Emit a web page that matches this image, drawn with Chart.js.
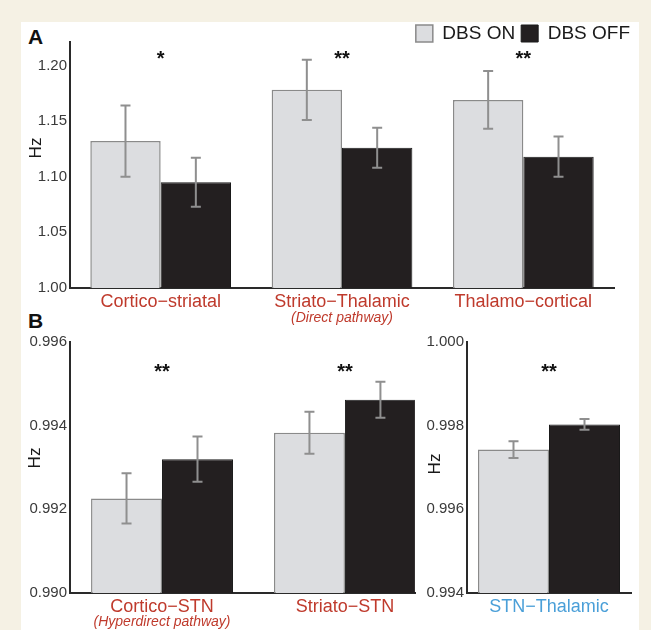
<!DOCTYPE html>
<html>
<head>
<meta charset="utf-8">
<script src="https://cdn.jsdelivr.net/npm/chart.js@4.4.0/dist/chart.umd.min.js"></script>
<style>
  body { margin: 0; width: 651px; height: 630px; background: #f5f1e4; position: relative; overflow: hidden;
         font-family: 'Liberation Sans', Arial, sans-serif; }
  #panel { position: absolute; left: 21px; top: 22px; width: 618px; height: 608px; background: #fff; }
  canvas { position: absolute; }
  .tag { position: absolute; font-weight: bold; font-size: 21px; color: #111; line-height: 24px; }
</style>
</head>
<body>
<div id="panel"></div>
<div class="tag" style="left:28px;top:25px">A</div>
<div class="tag" style="left:28px;top:309px">B</div>
<canvas id="chartA" width="600" height="300" style="left:20px;top:30px"></canvas>
<canvas id="chartB1" width="400" height="300" style="left:20px;top:330px"></canvas>
<canvas id="chartB2" width="220" height="300" style="left:417px;top:330px"></canvas>
<canvas id="legend" width="240" height="90" style="left:396px;top:18px"></canvas>
<script>
// panel A
const groupsA = ['Cortico−striatal', 'Striato−Thalamic', 'Thalamo−cortical'];
const notesA = ['', '(Direct pathway)', ''];
const starsA = ['*', '**', '**'];
const onA = [1.132, 1.178, 1.169];
const onErrA = [0.032, 0.027, 0.026];
const offA = [1.095, 1.126, 1.118];
const offErrA = [0.022, 0.018, 0.018];
const ticksA = [1.00, 1.05, 1.10, 1.15, 1.20];

// panel B, left
const groupsB1 = ['Cortico−STN', 'Striato−STN'];
const notesB1 = ['(Hyperdirect pathway)', ''];
const starsB1 = ['**', '**'];
const onB1 = [0.99226, 0.99383];
const onErrB1 = [0.0006, 0.0005];
const offB1 = [0.9932, 0.99462];
const offErrB1 = [0.00054, 0.00043];
const ticksB1 = [0.990, 0.992, 0.994, 0.996];

// panel B, right
const groupsB2 = ['STN−Thalamic'];
const notesB2 = [''];
const starsB2 = ['**'];
const onB2 = [0.99743];
const onErrB2 = [0.0002];
const offB2 = [0.99803];
const offErrB2 = [0.00013];
const ticksB2 = [0.994, 0.996, 0.998, 1.000];

const RED = '#bf3a2c';
const BLUE = '#4a9fd8';
const FONT = "'Liberation Sans', Arial, sans-serif";
Chart.defaults.font.family = FONT;

const onStyle = { backgroundColor: '#dcdde0', borderColor: '#8a8a8a', borderWidth: 1.5 };
const offStyle = { backgroundColor: '#231f20', borderColor: '#1a1a1a', borderWidth: 1 };

// error bars, stars, the small pathway notes and the Hz title
const decor = {
  id: 'decor',
  afterDatasetsDraw(chart, args, opts) {
    const { ctx, chartArea } = chart;
    const yAxis = chart.scales.y;
    ctx.save();
    ctx.strokeStyle = '#8f8f8f';
    ctx.lineWidth = 2;
    chart.data.datasets.forEach((ds, d) => {
      const meta = chart.getDatasetMeta(d);
      meta.data.forEach((bar, i) => {
        const raw = ds.data[i];
        const v = typeof raw === 'object' ? raw.y : raw;
        const e = ds.errors[i];
        const y1 = yAxis.getPixelForValue(v + e);
        const y2 = yAxis.getPixelForValue(v - e);
        ctx.beginPath();
        ctx.moveTo(bar.x, y1); ctx.lineTo(bar.x, y2);
        ctx.moveTo(bar.x - 5, y1); ctx.lineTo(bar.x + 5, y1);
        ctx.moveTo(bar.x - 5, y2); ctx.lineTo(bar.x + 5, y2);
        ctx.stroke();
      });
    });
    const m0 = chart.getDatasetMeta(0), m1 = chart.getDatasetMeta(1);
    ctx.fillStyle = '#111';
    ctx.textAlign = 'center';
    ctx.font = 'bold 20px ' + FONT;
    ctx.textBaseline = 'alphabetic';
    opts.stars.forEach((s, i) => {
      const x = (m0.data[i].x + m1.data[i].x) / 2;
      ctx.fillText(s, x, chartArea.top + opts.starDy);
    });
    ctx.fillStyle = RED;
    ctx.font = 'italic 14px ' + FONT;
    ctx.textBaseline = 'middle';
    opts.notes.forEach((n, i) => {
      if (!n) return;
      const x = (m0.data[i].x + m1.data[i].x) / 2;
      ctx.fillText(n, x, chartArea.bottom + opts.noteDy);
    });
    // axis title
    ctx.fillStyle = '#1a1a1a';
    ctx.font = '17px ' + FONT;
    ctx.translate(opts.hzX, chartArea.top + opts.hzDy);
    ctx.rotate(-Math.PI / 2);
    ctx.fillText('Hz', 0, 0);
    ctx.restore();
  }
};

function yScale(min, max, ticks, digits) {
  return {
    min: min, max: max, beginAtZero: false,
    grid: { display: false, drawTicks: false },
    border: { color: '#2a2a2a', width: 2 },
    afterBuildTicks: (axis) => { axis.ticks = ticks.map(v => ({ value: v })); },
    afterFit: (axis) => { axis.width = 50; },
    ticks: { color: '#3a3a3a', font: { size: 15 }, padding: 3, callback: (v) => v.toFixed(digits) }
  };
}

function xCat(color, height) {
  return {
    grid: { display: false, drawTicks: false },
    border: { color: '#2a2a2a', width: 2 },
    afterFit: (axis) => { axis.height = height; },
    ticks: { color: color, font: { size: 18 }, padding: 3, maxRotation: 0, autoSkip: false }
  };
}

function barOptions(padding, catPct, x, y, deco) {
  return {
    responsive: false,
    animation: false,
    layout: { padding: padding },
    datasets: { bar: { categoryPercentage: catPct, barPercentage: 1 } },
    plugins: {
      legend: { display: false },
      tooltip: { enabled: false },
      decor: deco
    },
    scales: { x: x, y: y }
  };
}

new Chart(document.getElementById('chartA'), {
  type: 'bar',
  data: {
    labels: groupsA,
    datasets: [
      { label: 'DBS ON', data: onA, errors: onErrA, ...onStyle },
      { label: 'DBS OFF', data: offA, errors: offErrA, ...offStyle }
    ]
  },
  options: barOptions({ top: 5, right: 6, left: 0, bottom: 0 }, 0.776,
    xCat(RED, 42), yScale(1.0, 1.221, ticksA, 2),
    { stars: starsA, notes: notesA, starDy: 23, noteDy: 30, hzX: 16, hzDy: 106 }),
  plugins: [decor]
});

const xB1 = xCat(RED, 37);
xB1.type = 'linear';
xB1.offset = false;
xB1.min = -0.503;
xB1.max = 1.383;
xB1.afterBuildTicks = (axis) => { axis.ticks = groupsB1.map((g, i) => ({ value: i })); };
xB1.ticks.callback = (v) => groupsB1[v];

new Chart(document.getElementById('chartB1'), {
  type: 'bar',
  data: {
    datasets: [
      { label: 'DBS ON', data: onB1.map((v, i) => ({ x: i, y: v })), errors: onErrB1, ...onStyle },
      { label: 'DBS OFF', data: offB1.map((v, i) => ({ x: i, y: v })), errors: offErrB1, ...offStyle }
    ]
  },
  options: barOptions({ top: 10, right: 5, left: 0, bottom: 0 }, 0.776,
    xB1, yScale(0.990, 0.996, ticksB1, 3),
    { stars: starsB1, notes: notesB1, starDy: 36, noteDy: 29, hzX: 15, hzDy: 116 }),
  plugins: [decor]
});

new Chart(document.getElementById('chartB2'), {
  type: 'bar',
  data: {
    labels: groupsB2,
    datasets: [
      { label: 'DBS ON', data: onB2, errors: onErrB2, ...onStyle },
      { label: 'DBS OFF', data: offB2, errors: offErrB2, ...offStyle }
    ]
  },
  options: barOptions({ top: 10, right: 6, left: 0, bottom: 0 }, 0.866,
    xCat(BLUE, 37), yScale(0.994, 1.000, ticksB2, 3),
    { stars: starsB2, notes: notesB2, starDy: 36, noteDy: 29, hzX: 18, hzDy: 122 }),
  plugins: [decor]
});

// legend only
new Chart(document.getElementById('legend'), {
  type: 'bar',
  data: {
    labels: [],
    datasets: [
      { label: 'DBS ON', data: [], ...onStyle },
      { label: 'DBS OFF', data: [], ...offStyle }
    ]
  },
  options: {
    responsive: false,
    animation: false,
    scales: { x: { display: false }, y: { display: false } },
    plugins: {
      tooltip: { enabled: false },
      legend: {
        position: 'top', align: 'end',
        labels: { boxWidth: 17, boxHeight: 17, padding: 6, color: '#1a1a1a', font: { size: 19 } }
      }
    }
  }
});
</script>
</body>
</html>
